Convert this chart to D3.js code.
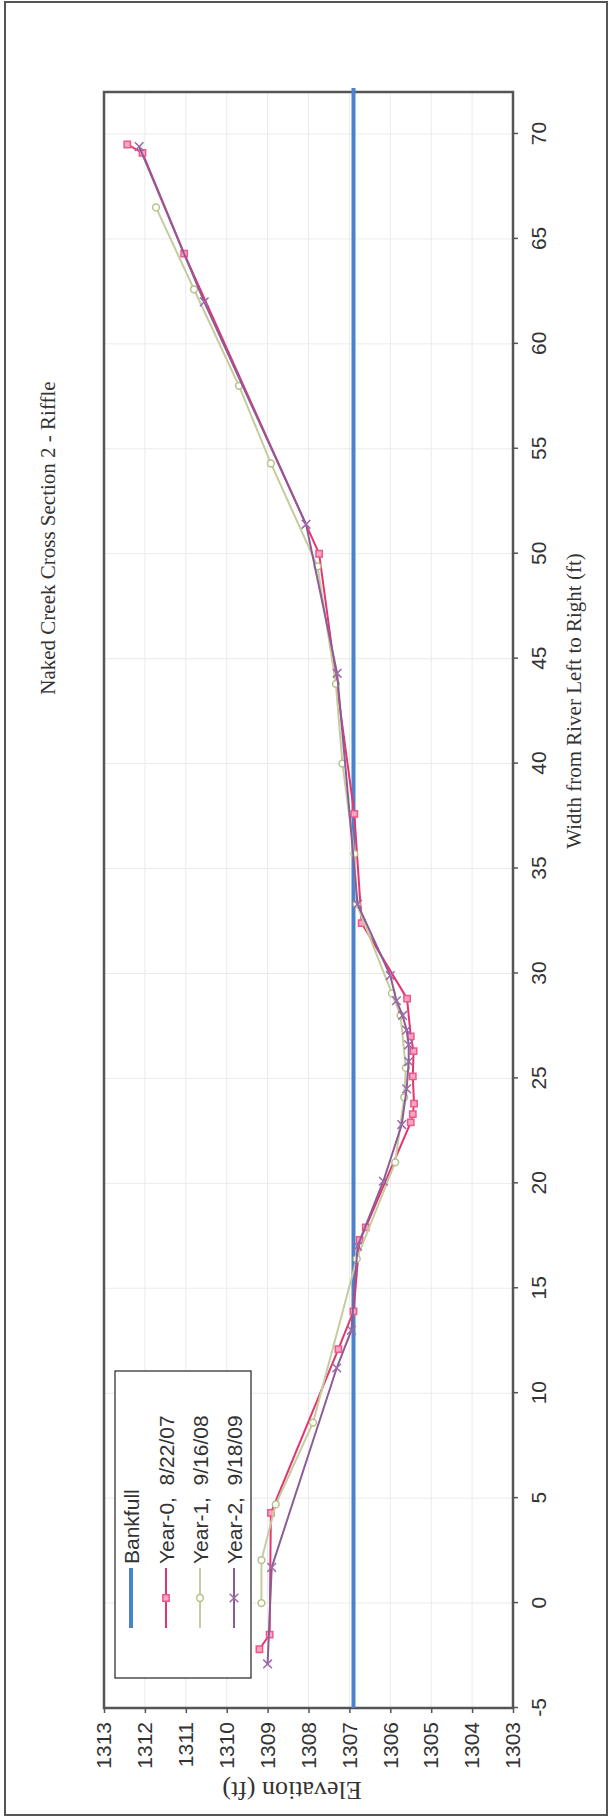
<!DOCTYPE html>
<html>
<head>
<meta charset="utf-8">
<script src="https://cdn.jsdelivr.net/npm/d3@7"></script>
<style>
  body { margin: 0; background: #fff; }
  svg { display: block; }
</style>
</head>
<body>
<div id="chart"></div>
<script>
// cross section survey, width (ft) vs elevation (ft)
const bankfull = 1306.9;

const year0W = [-2.2, -1.5, 4.3, 12.1, 13.9, 17.3, 17.9, 22.9, 23.3, 23.8, 25.1, 26.3, 27.0, 28.8, 32.4, 37.6, 50.0, 64.3, 69.1, 69.5];
const year0E = [1309.2, 1308.95, 1308.92, 1307.27, 1306.9, 1306.75, 1306.6, 1305.5, 1305.45, 1305.42, 1305.45, 1305.43, 1305.5, 1305.59, 1306.7, 1306.88, 1307.74, 1311.04, 1312.06, 1312.43];

const year1W = [0.0, 2.05, 4.7, 8.6, 16.4, 21.0, 24.1, 25.5, 28.0, 29.05, 33.3, 35.7, 40.0, 43.8, 49.4, 54.3, 58.0, 62.6, 66.5];
const year1E = [1309.15, 1309.15, 1308.8, 1307.89, 1306.82, 1305.88, 1305.66, 1305.62, 1305.75, 1305.96, 1306.82, 1306.88, 1307.17, 1307.33, 1307.78, 1308.92, 1309.7, 1310.8, 1311.73];

const year2W = [-2.9, 1.7, 11.2, 13.0, 17.0, 20.1, 22.8, 24.5, 25.8, 26.6, 27.3, 28.0, 28.7, 29.9, 33.3, 44.3, 51.4, 62.0, 69.4];
const year2E = [1309.0, 1308.9, 1307.31, 1306.95, 1306.8, 1306.17, 1305.72, 1305.6, 1305.55, 1305.55, 1305.6, 1305.7, 1305.85, 1306.0, 1306.8, 1307.3, 1308.06, 1310.55, 1312.14];

const widthTicks = [-5, 0, 5, 10, 15, 20, 25, 30, 35, 40, 45, 50, 55, 60, 65, 70];
const elevTicks = [1303, 1304, 1305, 1306, 1307, 1308, 1309, 1310, 1311, 1312, 1313];

const legendLabels = ["Bankfull", "Year-0,  8/22/07", "Year-1,  9/16/08", "Year-2,  9/18/09"];

const pageW = 613, pageH = 1818;

const svg = d3.select("#chart").append("svg")
  .attr("width", pageW)
  .attr("height", pageH);

// outer frame
svg.append("rect")
  .attr("x", 5).attr("y", 2)
  .attr("width", 602).attr("height", 1813)
  .attr("fill", "#fff")
  .attr("stroke", "#555")
  .attr("stroke-width", 2);

// the whole excel chart is turned on its side
const g = svg.append("g")
  .attr("transform", `translate(0,${pageH}) rotate(-90)`);

const margin = { left: 110, right: 1726, top: 104, bottom: 513 };

const xSc = d3.scaleLinear().domain([-5, 72]).range([margin.left, margin.right]);
const ySc = d3.scaleLinear().domain([1303, 1313]).range([margin.bottom, margin.top]);

// gridlines
g.selectAll(".gx")
  .data(widthTicks)
  .join("line")
    .attr("class", "gx")
    .attr("x1", d => xSc(d)).attr("x2", d => xSc(d))
    .attr("y1", margin.top).attr("y2", margin.bottom)
    .attr("stroke", "#ebebeb")
    .attr("stroke-width", 1);

g.selectAll(".gy")
  .data(elevTicks)
  .join("line")
    .attr("class", "gy")
    .attr("x1", margin.left).attr("x2", margin.right)
    .attr("y1", d => ySc(d)).attr("y2", d => ySc(d))
    .attr("stroke", "#ebebeb")
    .attr("stroke-width", 1);

// axes
const plain = d => String(d);

const xAxis = g.append("g")
  .attr("transform", `translate(0,${margin.bottom})`)
  .call(d3.axisBottom(xSc).tickValues(widthTicks).tickFormat(plain).tickSize(5).tickPadding(13));

const yAxis = g.append("g")
  .attr("transform", `translate(${margin.left},0)`)
  .call(d3.axisLeft(ySc).tickValues(elevTicks).tickFormat(plain).tickSize(5).tickPadding(9));

[xAxis, yAxis].forEach(a => {
  a.select(".domain").remove();
  a.selectAll("line").attr("stroke", "#555").attr("stroke-width", 1.5);
  a.selectAll("text")
    .attr("fill", "#333")
    .style("font-family", "Arial, 'Liberation Sans', sans-serif")
    .style("font-size", "21px");
});

// plot border
g.append("rect")
  .attr("x", margin.left).attr("y", margin.top)
  .attr("width", margin.right - margin.left)
  .attr("height", margin.bottom - margin.top)
  .attr("fill", "none")
  .attr("stroke", "#555")
  .attr("stroke-width", 2.5);

// bankfull
g.append("line")
  .attr("x1", xSc(-5)).attr("x2", xSc(72) + 4)
  .attr("y1", ySc(bankfull)).attr("y2", ySc(bankfull))
  .attr("stroke", "#4a82cc")
  .attr("stroke-width", 4);

const series = [
  { w: year0W, e: year0E, line: "#e5346f", mStroke: "#f0578a", mFill: "#f7a6c0", sym: d3.symbolSquare, size: 40 },
  { w: year1W, e: year1E, line: "#c6cc9e", mStroke: "#b4c488", mFill: "#fff", sym: d3.symbolCircle, size: 36 },
  { w: year2W, e: year2E, line: "#8d5b96", mStroke: "#9b6aa8", mFill: "none", sym: d3.symbolTimes, size: 50 }
];

const line = d3.line()
  .x(d => xSc(d[0]))
  .y(d => ySc(d[1]));

series.forEach((s, i) => {
  const pts = s.w.map((w, k) => [w, s.e[k]]);
  g.append("path")
    .datum(pts)
    .attr("fill", "none")
    .attr("stroke", s.line)
    .attr("stroke-width", 2)
    .attr("d", line);

  g.selectAll(".m" + i)
    .data(pts)
    .join("path")
      .attr("class", "m" + i)
      .attr("transform", d => `translate(${xSc(d[0])},${ySc(d[1])})`)
      .attr("d", d3.symbol().type(s.sym).size(s.size))
      .attr("fill", s.mFill)
      .attr("stroke", s.mStroke)
      .attr("stroke-width", 1.5);
});

// legend
const legend = g.append("g").attr("transform", "translate(140,115)");

legend.append("rect")
  .attr("width", 307).attr("height", 136)
  .attr("fill", "#fff")
  .attr("stroke", "#222")
  .attr("stroke-width", 1.2);

const rowY = [16, 51, 85, 119];
const legColors = ["#4a82cc", "#e5346f", "#c6cc9e", "#8d5b96"];

legendLabels.forEach((lab, i) => {
  legend.append("line")
    .attr("x1", 50).attr("x2", 110)
    .attr("y1", rowY[i]).attr("y2", rowY[i])
    .attr("stroke", legColors[i])
    .attr("stroke-width", i === 0 ? 4 : 2);
  if (i > 0) {
    const s = series[i - 1];
    legend.append("path")
      .attr("transform", `translate(80,${rowY[i]})`)
      .attr("d", d3.symbol().type(s.sym).size(s.size))
      .attr("fill", s.mFill)
      .attr("stroke", s.mStroke)
      .attr("stroke-width", 1.5);
  }
  legend.append("text")
    .attr("x", 114)
    .attr("y", rowY[i] + 8)
    .attr("fill", "#333")
    .style("font-family", "Arial, 'Liberation Sans', sans-serif")
    .style("font-size", "21px")
    .style("white-space", "pre")
    .text(lab);
});

// titles
const serif = "'Times New Roman', 'Liberation Serif', serif";

g.append("text")
  .attr("x", 1280).attr("y", 55)
  .attr("text-anchor", "middle")
  .attr("fill", "#333")
  .style("font-family", serif)
  .style("font-size", "21px")
  .text("Naked Creek Cross Section 2 - Riffle");

g.append("text")
  .attr("x", 1117).attr("y", 581)
  .attr("text-anchor", "middle")
  .attr("fill", "#333")
  .style("font-family", serif)
  .style("font-size", "21px")
  .text("Width from River Left to Right (ft)");

g.append("text")
  .attr("transform", `translate(36,292) rotate(-90)`)
  .attr("text-anchor", "middle")
  .attr("fill", "#333")
  .style("font-family", serif)
  .style("font-size", "26px")
  .text("Elevation (ft)");
</script>
</body>
</html>
